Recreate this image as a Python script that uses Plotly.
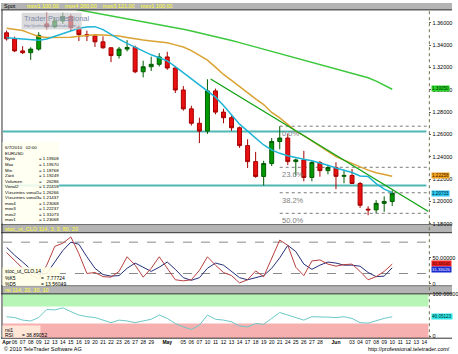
import plotly.graph_objects as go

W, H = 458, 354
FONT = "Liberation Sans"


def px(x):
    return x / W


def py(y):
    return 1 - y / H


# ---------------- data ----------------
idx = list(range(49))
tick_labels = ["<b>Apr</b>", "06", "07", "08", "09", "12", "13", "14", "15", "16", "19", "20", "21",
               "22", "23", "26", "27", "28", "29", "", "<b>May</b>", "", "05", "06", "07", "10", "11",
               "12", "13", "14", "17", "18", "19", "20", "21", "24", "25", "26", "27", "28", "",
               "<b>Jun</b>", "", "03", "04", "07", "08", "09", "10", "11", "12", "13", "14"]

opens = [1.3510, 1.3456, 1.3348, 1.3332, 1.3364, 1.3590, 1.3563, 1.3616, 1.3656, 1.3556,
         1.3494, 1.3482, 1.3429, 1.3376, 1.3306, 1.3364, 1.3379, 1.3161, 1.3206, 1.3228,
         1.3294, 1.3195, 1.2998, 1.2829, 1.2700, 1.2630, 1.2990, 1.2800, 1.2750, 1.2660,
         1.2500, 1.2357, 1.2224, 1.2340, 1.2537, 1.2568, 1.2357, 1.2372, 1.2215, 1.2349,
         1.2276, 1.2304, 1.2225, 1.2233, 1.2161, 1.19308, 1.1925, 1.1983, 1.2000]
highs = [1.3530, 1.3476, 1.3390, 1.3380, 1.3515, 1.3692, 1.3645, 1.3690, 1.3677, 1.3574,
         1.3530, 1.3494, 1.3478, 1.3381, 1.3384, 1.3444, 1.3395, 1.3260, 1.3296, 1.3328,
         1.3340, 1.3213, 1.3033, 1.2857, 1.2750, 1.3094, 1.3010, 1.2830, 1.2769, 1.2671,
         1.2557, 1.2444, 1.2364, 1.2568, 1.2673, 1.2608, 1.2384, 1.2453, 1.2369, 1.2363,
         1.2327, 1.2351, 1.2284, 1.2291, 1.2175, 1.19570, 1.2012, 1.2046, 1.2100]
lows = [1.3440, 1.3337, 1.3320, 1.3268, 1.3350, 1.3540, 1.3551, 1.3590, 1.3527, 1.3436,
        1.3436, 1.3383, 1.3367, 1.3247, 1.3280, 1.3343, 1.3148, 1.3111, 1.3168, 1.3208,
        1.3179, 1.2971, 1.2813, 1.2680, 1.2523, 1.2605, 1.2780, 1.2700, 1.2631, 1.2480,
        1.2300, 1.2212, 1.2143, 1.2317, 1.2467, 1.2326, 1.2233, 1.2180, 1.2181, 1.2222,
        1.2243, 1.2110, 1.2163, 1.2160, 1.1942, 1.18768, 1.1897, 1.1908, 1.1960]
closes = [1.3456, 1.3348, 1.3332, 1.3364, 1.3487, 1.3563, 1.3616, 1.3656, 1.3556, 1.3494,
          1.3482, 1.3429, 1.3376, 1.3306, 1.3364, 1.3379, 1.3161, 1.3206, 1.3228, 1.3294,
          1.3195, 1.2998, 1.2829, 1.2700, 1.2630, 1.2990, 1.2800, 1.2750, 1.2660, 1.2500,
          1.2357, 1.2224, 1.2340, 1.2537, 1.2568, 1.2357, 1.2372, 1.2215, 1.2349, 1.2276,
          1.2304, 1.2225, 1.2233, 1.2161, 1.1966, 1.19249, 1.1983, 1.2000, 1.20733]

mov_cyan = [1.3465, 1.3461, 1.3455, 1.3448, 1.3443, 1.3454, 1.3477, 1.3503, 1.3529, 1.3551,
            1.3562, 1.3565, 1.3538, 1.3494, 1.3454, 1.3415, 1.3380, 1.3344, 1.3313, 1.3287,
            1.3259, 1.3208, 1.3153, 1.3102, 1.3049, 1.2996, 1.2934, 1.2859, 1.2771, 1.2692,
            1.2630, 1.2568, 1.2506, 1.2462, 1.2431, 1.2409, 1.2392, 1.2378, 1.2365, 1.2348,
            1.2325, 1.2299, 1.2277, 1.2259, 1.2228, 1.2224, 1.2160, 1.2110, 1.2079]
mov_orange = [1.3551, 1.3544, 1.3531, 1.3503, 1.3477, 1.3468, 1.3468, 1.3468, 1.3471, 1.3478,
              1.3487, 1.3493, 1.3491, 1.3488, 1.3481, 1.3468, 1.3454, 1.3445, 1.3437, 1.3429,
              1.3420, 1.3402, 1.3383, 1.3350, 1.3307, 1.3265, 1.3203, 1.3137, 1.3084, 1.3027,
              1.2969, 1.2918, 1.2868, 1.2797, 1.2749, 1.2687, 1.2630, 1.2590, 1.2542, 1.2494,
              1.2448, 1.2402, 1.2370, 1.2339, 1.2308, 1.2281, 1.2257, 1.2239, 1.2226]
mov_green = [1.3847, 1.3834, 1.3820, 1.3803, 1.3785, 1.3768, 1.3754, 1.3741, 1.3728, 1.3715,
             1.3701, 1.3688, 1.3675, 1.3662, 1.3649, 1.3635, 1.3622, 1.3609, 1.3596, 1.3582,
             1.3569, 1.3556, 1.3541, 1.3526, 1.3510, 1.3494, 1.3477, 1.3459, 1.3441, 1.3422,
             1.3402, 1.3383, 1.3364, 1.3344, 1.3325, 1.3305, 1.3284, 1.3264, 1.3244, 1.3223,
             1.3203, 1.3183, 1.3163, 1.3141, 1.3120, 1.3107, 1.3078, 1.3042, 1.3005]

stoch_k = [60, 45, 30, 18, 9, 36, 72, 78, 90, 58, 20, 22, 14, 13, 24, 52, 36, 13, 30, 52,
           30, 8, 6, 8, 26, 52, 36, 22, 16, 2, 8, 25, 14, 50, 84, 74, 32, 16, 44, 46,
           38, 34, 37, 38, 24, 8, 14, 24, 38]
stoch_d = [70, 55, 42, 28, 18, 20, 42, 64, 80, 76, 52, 30, 18, 15, 16, 30, 40, 32, 24, 32,
           42, 28, 12, 7, 12, 30, 40, 36, 24, 12, 8, 12, 16, 30, 50, 74, 62, 38, 28, 36,
           42, 40, 36, 36, 34, 22, 14, 15, 31]
rsi = [46, 44, 38, 36, 44, 63, 62, 67, 58, 50, 46, 44, 38, 32, 38, 36, 32, 36, 40, 50,
       42, 30, 22, 16, 26, 50, 40, 38, 34, 24, 22, 30, 28, 42, 56, 50, 44, 38, 46, 46,
       45, 44, 46, 42, 32, 31, 37, 42, 46]

trend_x = [25.4, 52.5]
trend_y = [1.3097, 1.1910]
hlines = [1.26266, 1.21437]
fib_start = 34
fib_levels = [1.2674, 1.2306, 1.2078, 1.1894]
fib_text = ["0.0%", "23.6%", "38.2%", "50.0%"]

price_ticks = [1.18, 1.20, 1.22, 1.24, 1.26, 1.28, 1.30, 1.32, 1.34, 1.36]

info_rows = [("6/7/2010   02:00", ""), ("EURUSD", ""), ("Nyitó", "= 1.19308"), ("Max", "= 1.19570"),
             ("Min", "= 1.18768"), ("Záró", "= 1.19249"), ("Volumen", "=    26286"),
             ("Vonal2", "= 1.22418"), ("Vízszintes vonal1", "= 1.26266"),
             ("Vízszintes vonal3", "= 1.21437"), ("mov4", "= 1.23068"), ("mov3", "= 1.22237"),
             ("mov2", "= 1.31073"), ("mov1", "= 1.23068")]

# ---------------- figure ----------------
fig = go.Figure()

fig.add_trace(go.Candlestick(
    x=idx, open=opens, high=highs, low=lows, close=closes, xaxis="x", yaxis="y",
    increasing=dict(line=dict(color="#005c00", width=1), fillcolor="#009a00"),
    decreasing=dict(line=dict(color="#a80000", width=1), fillcolor="#e81010"),
    whiskerwidth=0, showlegend=False, hoverinfo="skip"))

for vals, col in [(mov_green, "#3cc83c"), (mov_orange, "#d9a232"), (mov_cyan, "#1eb4d6")]:
    fig.add_trace(go.Scatter(x=idx, y=vals, mode="lines", line=dict(color=col, width=1.5),
                             xaxis="x", yaxis="y", hoverinfo="skip"))

fig.add_trace(go.Scatter(x=trend_x, y=trend_y, mode="lines", line=dict(color="#10a010", width=1.3),
                         xaxis="x", yaxis="y", hoverinfo="skip"))

fig.add_trace(go.Scatter(x=idx, y=stoch_d, mode="lines", line=dict(color="#26307a", width=1),
                         xaxis="x", yaxis="y2", hoverinfo="skip"))
fig.add_trace(go.Scatter(x=idx, y=stoch_k, mode="lines", line=dict(color="#b84040", width=1),
                         xaxis="x", yaxis="y2", hoverinfo="skip"))
fig.add_trace(go.Scatter(x=idx, y=rsi, mode="lines", line=dict(color="#6cc8c8", width=1),
                         xaxis="x", yaxis="y3", hoverinfo="skip"))

shapes = []
for y0, y1 in [(0, 7), (226, 233), (288, 295)]:
    shapes.append(dict(type="rect", xref="paper", yref="paper", x0=0, x1=1, y0=py(y1), y1=py(y0),
                       fillcolor="#b4b4b4", line=dict(width=0), layer="below"))
shapes.append(dict(type="rect", xref="paper", yref="y3", x0=px(2), x1=px(434), y0=70, y1=100,
                   fillcolor="#b6f5b6", line=dict(width=0), layer="below"))
shapes.append(dict(type="rect", xref="paper", yref="y3", x0=px(2), x1=px(434), y0=-4.7, y1=30,
                   fillcolor="#f7b0b0", line=dict(width=0), layer="below"))
for lv in [80, 20]:
    shapes.append(dict(type="line", xref="paper", yref="y2", x0=px(2), x1=px(434), y0=lv, y1=lv,
                       line=dict(color="#8a8a8a", width=1, dash="dash"), layer="below"))
for lv in hlines:
    shapes.append(dict(type="line", xref="paper", yref="y", x0=px(2), x1=px(432), y0=lv, y1=lv,
                       line=dict(color="#4fb8b4", width=2), layer="below"))
for lv in fib_levels:
    shapes.append(dict(type="line", xref="x", yref="y", x0=fib_start, x1=52.3, y0=lv, y1=lv,
                       line=dict(color="#7a7a7a", width=1, dash="dot"), layer="below"))
for y in [7, 225, 233, 287, 295, 340]:
    shapes.append(dict(type="line", xref="paper", yref="paper", x0=0, x1=1, y0=py(y), y1=py(y),
                       line=dict(color="#303030", width=1)))
shapes.append(dict(type="line", xref="paper", yref="paper", x0=px(435), x1=px(435), y0=py(340),
                   y1=py(7), line=dict(color="#707050", width=1, dash="dot")))
shapes.append(dict(type="line", xref="paper", yref="paper", x0=px(1), x1=px(1), y0=py(340),
                   y1=py(7), line=dict(color="#303030", width=1)))
shapes.append(dict(type="rect", xref="paper", yref="paper", x0=px(1.5), x1=px(59), y0=py(223),
                   y1=py(141), fillcolor="rgba(255,255,240,0.88)", line=dict(width=0)))
shapes.append(dict(type="rect", xref="paper", yref="paper", x0=px(1.5), x1=px(60), y0=py(287),
                   y1=py(268), fillcolor="rgba(255,255,232,0.9)", line=dict(width=0)))
shapes.append(dict(type="rect", xref="paper", yref="paper", x0=px(1.5), x1=px(40), y0=py(339.5),
                   y1=py(327), fillcolor="rgba(255,236,220,0.9)", line=dict(width=0)))
shapes.append(dict(type="rect", xref="paper", yref="paper", x0=px(21), x1=px(82), y0=py(27),
                   y1=py(10), fillcolor="rgba(200,200,205,0.65)", line=dict(width=0)))

ann = []


def text(x, y, s, size=5.5, color="#000000", xanchor="left", bg=None, xref="paper", yref="paper",
         yshift=0):
    d = dict(x=x, y=y, xref=xref, yref=yref, text=s, showarrow=False, xanchor=xanchor,
             yanchor="middle", font=dict(size=size, color=color, family=FONT), borderpad=0,
             yshift=yshift)
    if bg:
        d["bgcolor"] = bg
    ann.append(d)


text(px(2), py(3.5), "Spot", 5.5, "#000000")
text(px(25), py(3.5), "mov1 100,00    mov4 200,00    mov3 121,00    mov1 100,00", 5.5, "#ffff30")
text(px(3), py(229.5), "stoc_ut_CLO 114, 3, 3, 80, 20", 5.5, "#ffff30")
text(px(3), py(291.5), "rsi 114, 20, 30, 10", 5.5, "#ffff30")

for i, (a, b) in enumerate(info_rows):
    yy = 147 + i * 5.6
    text(px(3), py(yy), a, 4.4)
    if b:
        text(px(38), py(yy), b, 4.4)

text(px(3), py(272), "stoc_ut_CLO,14", 5)
text(px(3), py(279), "%K5", 5)
text(px(40), py(279), "=  7.77724", 5)
text(px(3), py(285), "%D5", 5)
text(px(40), py(285), "= 13.56049", 5)
text(px(3), py(331.5), "rsi1", 5)
text(px(3), py(336.5), "RSI", 5)
text(px(20), py(336.5), "= 38.89052", 5)

for lv, s in zip(fib_levels, fib_text):
    ann.append(dict(x=fib_start, y=lv, xref="x", yref="y", text=s, showarrow=False,
                    xanchor="left", yanchor="top", yshift=-1,
                    font=dict(size=7.5, color="#808080", family=FONT)))

text(px(22), py(15.5), "Trader Professional", 7.5, "#7d8aa6")
text(px(22), py(23), "http://professional.teletrader.com", 3.6, "#7d8aa6")

text(px(436.5), mov_green[-1], "1.30050", 4.6, "#003000", bg="#26d626", yref="y", yshift=1)
text(px(436.5), mov_orange[-1], "1.22258", 4.6, "#402000", bg="#f2a21e", yref="y", yshift=1)
text(px(436.5), closes[-1], "1.20733", 4.6, "#002030", bg="#2ec6f0", yref="y")
text(px(436.5), stoch_k[-1], "35.33541", 4.3, "#300000", bg="#f02020", yref="y2", yshift=0.5)
text(px(436.5), stoch_d[-1], "31.33026", 4.3, "#ffffff", bg="#1a2ad0", yref="y2", yshift=-1.5)
text(px(436.5), rsi[-1], "46.05123", 4.6, "#003030", bg="#30e6e6", yref="y3")

text(px(2), py(350.5), "© 2010 TeleTrader Software AG", 5.5)
text(px(457), py(350.5), "http://professional.teletrader.com/", 5.5, xanchor="right")

axfont = dict(size=5.5, color="#000000", family=FONT)
fig.update_layout(
    width=W, height=H, margin=dict(l=0, r=0, t=0, b=0),
    paper_bgcolor="#ffffff", plot_bgcolor="#ffffff", showlegend=False,
    shapes=shapes, annotations=ann,
    xaxis=dict(domain=[px(2), px(434)], range=[-0.45, 52.5], anchor="y3",
               tickmode="array", tickvals=list(range(53)), ticktext=tick_labels, tickangle=0,
               tickfont=dict(size=5, color="#000000", family=FONT), ticks="", ticklabelstandoff=0,
               showgrid=False, zeroline=False, showline=False,
               rangeslider=dict(visible=False), fixedrange=True),
    yaxis=dict(domain=[py(225), py(7)], range=[1.1791, 1.3715], anchor="x", side="right",
               tickmode="array", tickvals=price_ticks, ticktext=["%.5f" % v for v in price_ticks],
               tickfont=axfont, ticks="outside", ticklen=2, tickcolor="#606060",
               showgrid=False, zeroline=False),
    yaxis2=dict(domain=[py(287), py(233)], range=[-3.8, 98.1], anchor="x", side="right",
                tickmode="array", tickvals=[0, 50], ticktext=["0", "50.00000"], tickfont=axfont,
                ticks="outside", ticklen=2, tickcolor="#606060", showgrid=False, zeroline=False),
    yaxis3=dict(domain=[py(340), py(295)], range=[-4.7, 100], anchor="x", side="right",
                tickmode="array", tickvals=[0, 100], ticktext=["0", "100.00000"], tickfont=axfont,
                ticks="outside", ticklen=2, tickcolor="#606060", showgrid=False, zeroline=False),
)

fig.write_html("out.html")
